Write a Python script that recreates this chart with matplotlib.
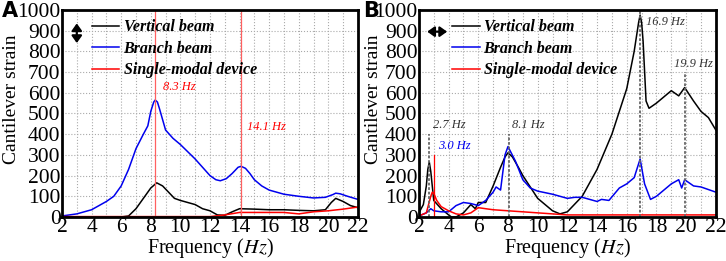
import numpy as np
import matplotlib
matplotlib.use("Agg")
import matplotlib.pyplot as plt

plt.rcParams['font.family'] = ['Liberation Serif', 'DejaVu Serif']
plt.rcParams['mathtext.fontset'] = 'stix'

# Panel A (vertical excitation)
a_blue_f = [2, 3, 4, 5, 5.5, 6, 6.5, 7, 7.5, 7.8, 8, 8.2, 8.3, 8.45, 8.6, 9, 9.5, 10, 11, 12, 12.4, 12.7, 13.1, 13.5, 13.9, 14.1, 14.4, 14.7, 15, 15.5, 16, 17, 18, 19, 19.8, 20.3, 20.5, 20.8, 21.3, 22]
a_blue_v = [5, 15, 35, 75, 100, 150, 230, 330, 400, 440, 510, 555, 565, 555, 520, 420, 380, 350, 280, 200, 180, 175, 185, 210, 240, 245, 235, 210, 180, 150, 130, 110, 100, 92, 95, 108, 115, 112, 100, 85]
a_black_f = [2, 6, 6.5, 7, 7.5, 8, 8.4, 8.8, 9.2, 9.6, 10, 11, 11.5, 12, 12.5, 13, 13.5, 14, 15, 16, 17, 18, 19, 19.8, 20.2, 20.5, 21, 21.5, 22]
a_black_v = [0, 0, 5, 40, 90, 140, 165, 150, 120, 90, 80, 60, 40, 30, 10, 8, 25, 40, 38, 35, 35, 32, 30, 35, 70, 90, 75, 55, 45]
a_red_f = [2, 12, 13, 14, 15, 16, 17, 18, 19, 20, 21, 22]
a_red_v = [2, 2, 10, 22, 22, 22, 22, 15, 25, 30, 38, 48]

# Panel B (horizontal excitation)
b_black_f = [2, 2.3, 2.5, 2.6, 2.7, 2.8, 2.9, 3, 3.5, 4, 4.2, 4.5, 5, 5.5, 5.8, 6, 6.5, 7, 7.5, 7.8, 8, 8.3, 8.7, 9, 10, 11, 11.5, 12, 13, 14, 15, 16, 16.5, 16.8, 16.9, 17.0, 17.1, 17.3, 17.5, 18, 18.5, 19, 19.5, 19.9, 20.5, 21, 21.5, 22]
b_black_v = [20, 60, 150, 230, 265, 220, 150, 80, 40, 10, 0, 0, 20, 60, 40, 70, 70, 150, 240, 290, 310, 290, 240, 200, 90, 30, 15, 25, 100, 230, 400, 620, 800, 940, 975, 940, 850, 560, 525, 550, 580, 610, 585, 625, 560, 510, 480, 420]
b_blue_f = [2, 2.5, 2.8, 3, 3.5, 4, 4.5, 5, 5.5, 6, 6.5, 7, 7.2, 7.5, 7.8, 8, 8.5, 9, 9.5, 10, 11, 12, 12.5, 13, 14, 14.3, 14.8, 15.5, 16, 16.5, 16.9, 17.2, 17.6, 18, 18.5, 19, 19.5, 19.7, 19.9, 20.5, 21, 22]
b_blue_v = [5, 20, 40, 30, 25, 25, 55, 70, 65, 55, 80, 120, 145, 130, 300, 340, 270, 180, 140, 125, 110, 90, 95, 95, 75, 85, 80, 140, 160, 190, 280, 160, 85, 100, 130, 160, 180, 140, 180, 150, 145, 120]
b_red_f = [2, 2.5, 2.8, 2.9, 3.0, 3.2, 3.5, 4, 4.5, 5, 5.5, 6, 6.5, 7, 8, 9, 10, 11, 12, 14, 22]
b_red_v = [5, 20, 100, 120, 115, 80, 50, 30, 15, 10, 20, 45, 40, 35, 30, 25, 20, 15, 10, 10, 10]

labels = ['Vertical beam', 'Branch beam', 'Single-modal device']
xticks = np.arange(2, 23, 2)
yticks = np.arange(0, 1001, 100)

fig = plt.figure(figsize=(7.26, 2.61), dpi=100)
axA = fig.add_axes([0.0854, 0.1686, 0.4076, 0.7934])
axB = fig.add_axes([0.577, 0.1686, 0.409, 0.7934])

for ax in (axA, axB):
    ax.set_xlim(2, 22)
    ax.set_ylim(0, 1000)
    ax.set_xticks(xticks)
    ax.set_xticks(np.arange(2, 23, 1), minor=True)
    ax.set_yticks(yticks)
    ax.grid(which='both', color='#aaaaaa', linestyle=':', linewidth=0.8)
    ax.tick_params(which='both', length=0, labelsize=15.5, pad=1)
    for s in ax.spines.values():
        s.set_linewidth(2)
    ax.set_xlabel('Frequency ($\\it{Hz}$)', fontsize=14.5, labelpad=-1)
    ax.set_ylabel('Cantilever strain', fontsize=14)

axA.yaxis.set_label_coords(-0.142, 0.57)
axB.yaxis.set_label_coords(-0.125, 0.57)

lp = dict(family=['Liberation Serif'], weight='bold', style='italic', size=11.5)
arrow = dict(arrowstyle='<|-|>,head_length=0.35,head_width=0.25', color='black',
             lw=1.6, mutation_scale=12, shrinkA=0, shrinkB=0)

axA.plot(a_black_f, a_black_v, color='black', lw=1.1, label=labels[0])
axA.plot(a_blue_f, a_blue_v, color='#0000ee', lw=1.1, label=labels[1])
axA.plot(a_red_f, a_red_v, color='red', lw=1.1, label=labels[2])
for f in (8.3, 14.1):
    axA.axvline(f, color='#ff6060', lw=0.9)
axA.text(8.8, 612, '8.3 Hz', color='red', fontsize=9, style='italic')
axA.text(14.5, 420, '14.1 Hz', color='red', fontsize=9, style='italic')
axA.legend(loc='upper left', bbox_to_anchor=(0.10, 0.955), frameon=False, prop=lp,
           handlelength=1.7, handletextpad=0.3, labelspacing=0.35, borderpad=0,
           borderaxespad=0)
axA.annotate('', xy=(0.05, 0.935), xytext=(0.05, 0.84), xycoords='axes fraction',
             arrowprops=arrow)

axB.plot(b_black_f, b_black_v, color='black', lw=1.1, label=labels[0])
axB.plot(b_blue_f, b_blue_v, color='#0000ee', lw=1.1, label=labels[1])
axB.plot(b_red_f, b_red_v, color='red', lw=1.1, label=labels[2])
for f, top in ((2.7, 400), (8.1, 400), (16.9, 1000), (19.9, 700)):
    axB.plot([f, f], [0, top], color='#666666', lw=1.3, ls=(0, (1.5, 1)))
axB.plot([3.0, 3.0], [0, 300], color='red', lw=0.9)
axB.text(2.94, 428, '2.7 Hz', color='#333333', fontsize=9, style='italic')
axB.text(8.26, 428, '8.1 Hz', color='#333333', fontsize=9, style='italic')
axB.text(17.3, 925, '16.9 Hz', color='#333333', fontsize=9, style='italic')
axB.text(19.2, 722, '19.9 Hz', color='#333333', fontsize=9, style='italic')
axB.text(3.28, 330, '3.0 Hz', color='#0000ee', fontsize=9, style='italic')
axB.legend(loc='upper left', bbox_to_anchor=(0.11, 0.955), frameon=False, prop=lp,
           handlelength=1.8, handletextpad=0.2, labelspacing=0.35, borderpad=0,
           borderaxespad=0)
axB.annotate('', xy=(0.028, 0.895), xytext=(0.095, 0.895), xycoords='axes fraction',
             arrowprops=arrow)

fig.text(0.002, 0.995, 'A', fontsize=15, weight='bold', family='DejaVu Sans', va='top')
fig.text(0.5, 0.995, 'B', fontsize=15, weight='bold', family='DejaVu Sans', va='top')

fig.savefig('out.png', dpi=100)
